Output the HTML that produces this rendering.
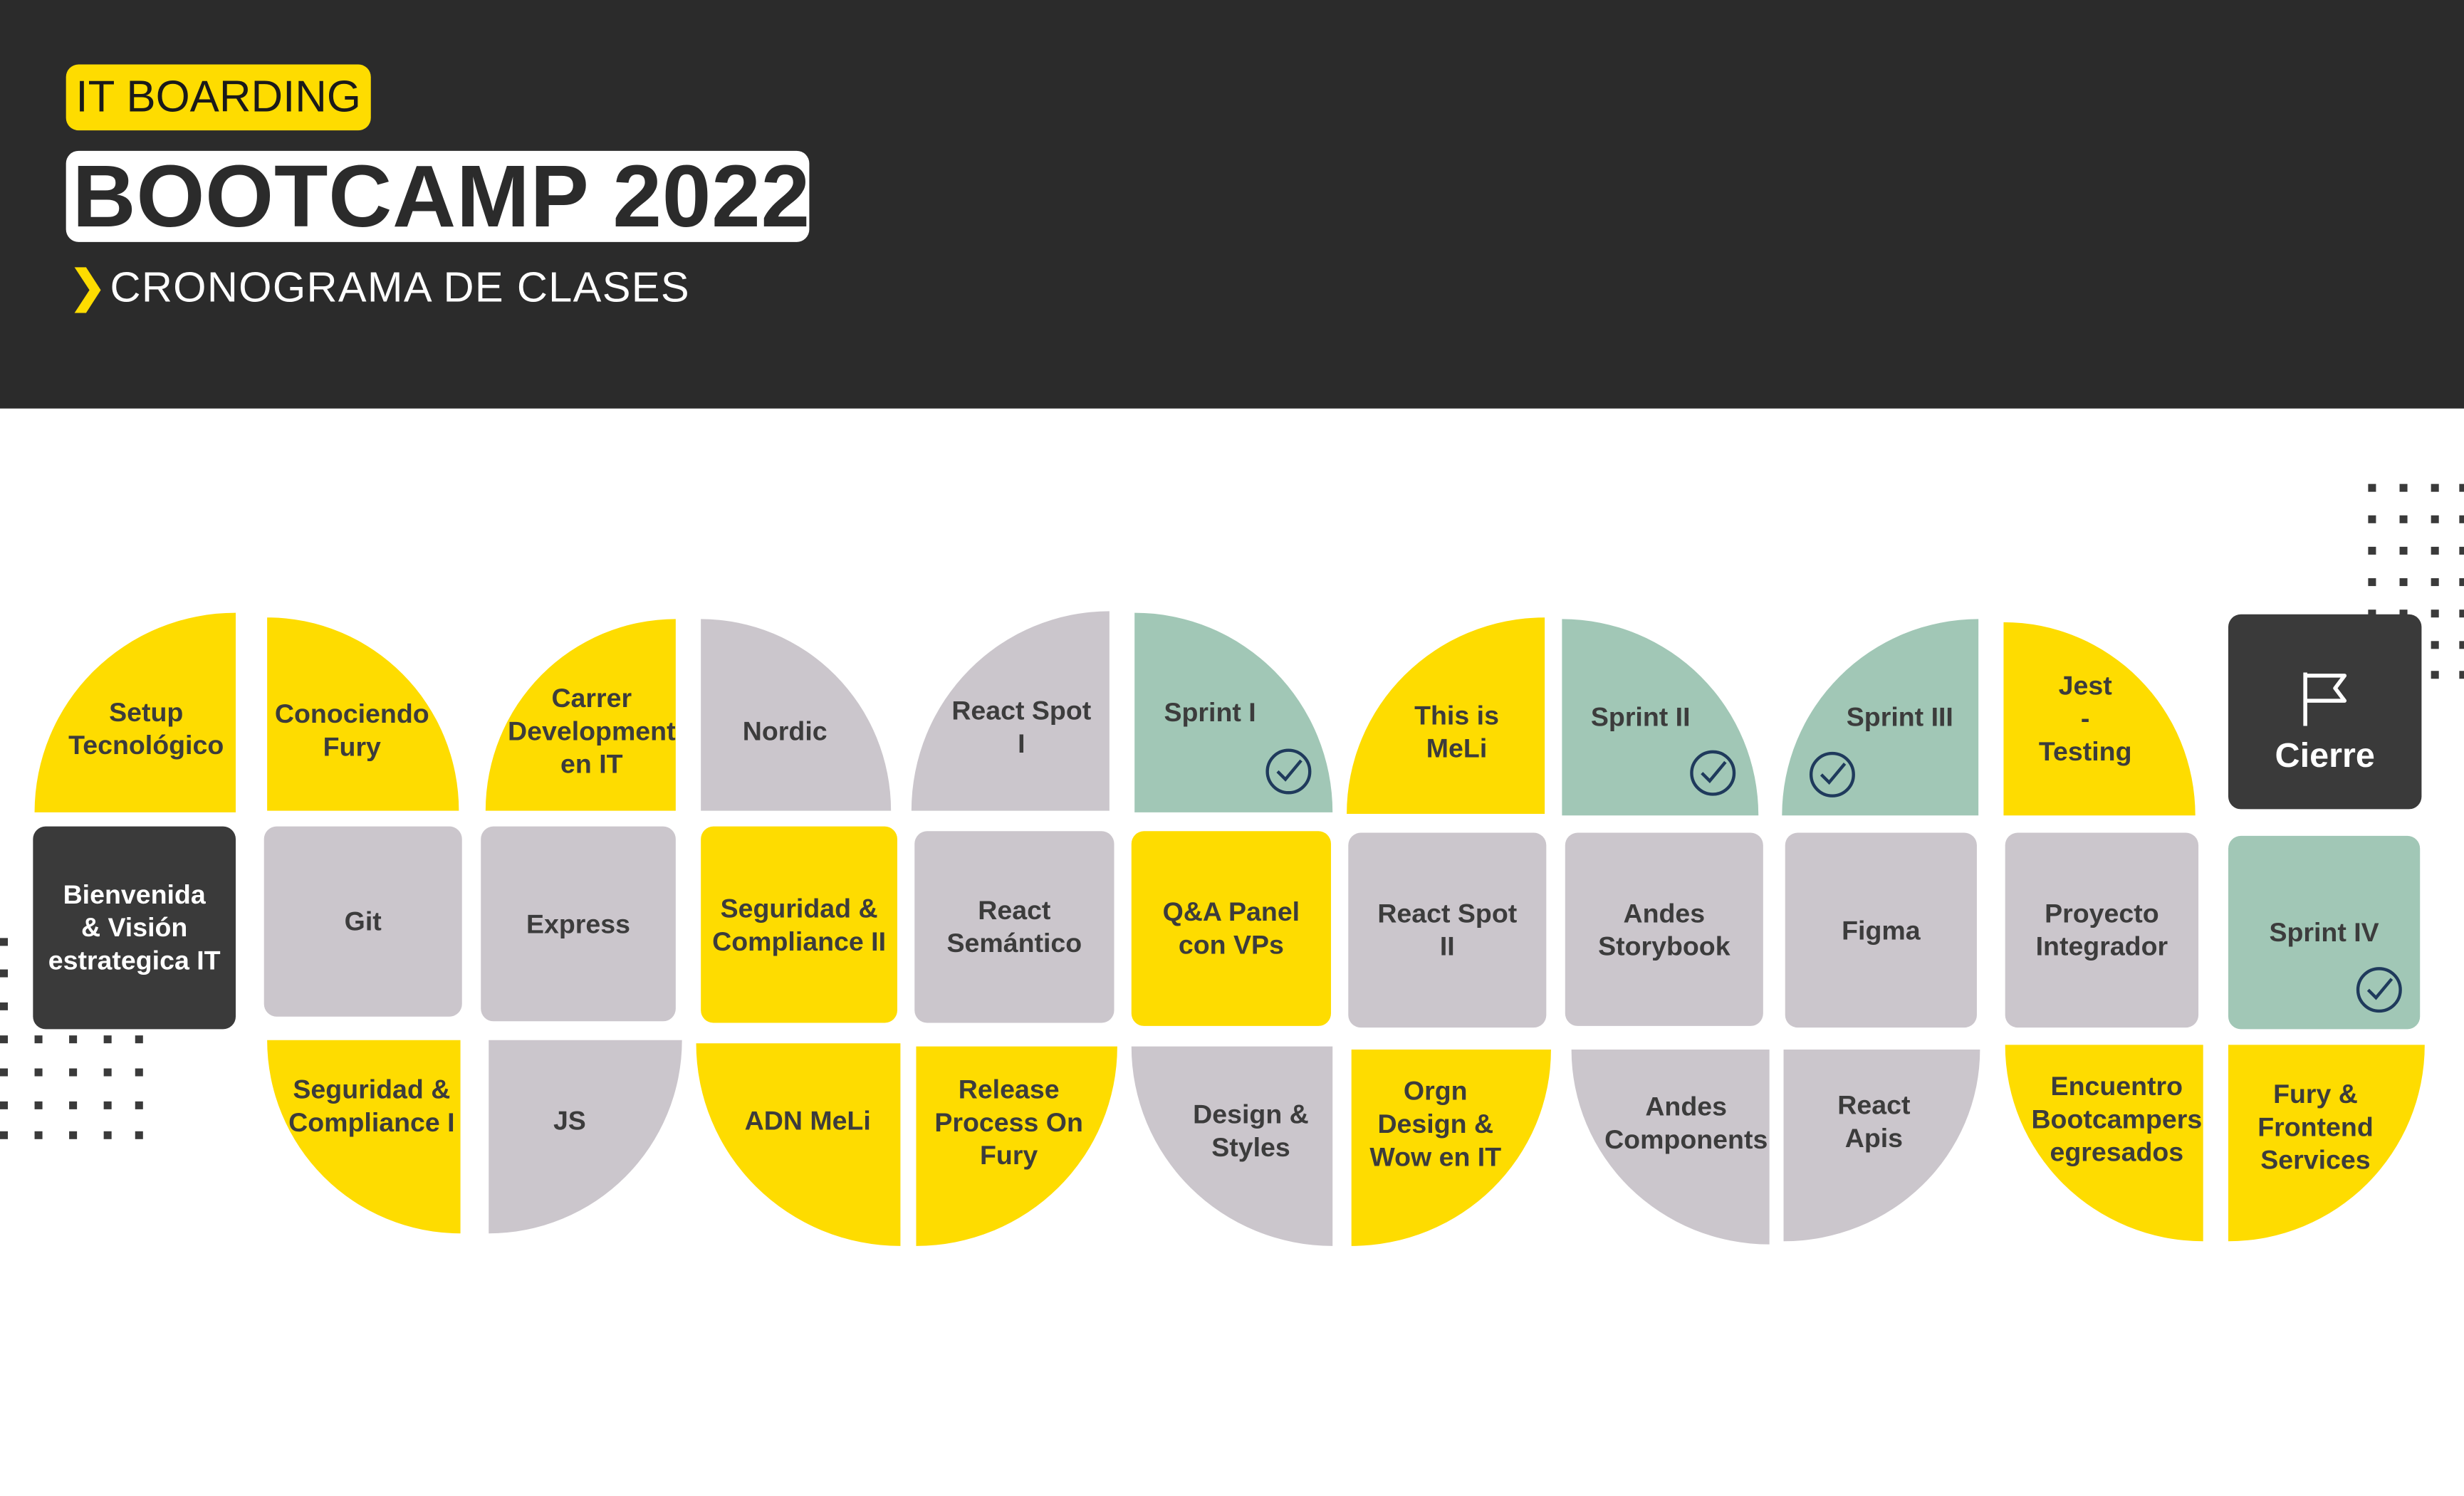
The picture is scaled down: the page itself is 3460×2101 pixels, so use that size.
<!DOCTYPE html>
<html><head><meta charset="utf-8">
<style>
html,body{margin:0;padding:0;background:#fff;}
body{width:3460px;height:2100px;overflow:hidden;position:relative;font-family:"Liberation Sans",sans-serif;}
#s{position:absolute;left:0;top:0;width:1568px;height:952px;transform:scale(2.20663);transform-origin:0 0;}
.hdr{position:absolute;left:0;top:0;width:1568px;height:260px;background:#2b2b2b;}
.t{position:absolute;display:flex;align-items:center;justify-content:center;text-align:center;font-weight:bold;font-size:17px;line-height:21px;color:#3c3c3c;box-sizing:border-box;}
.y{background:#fedc00}.g{background:#cbc6cc}.gr{background:#a1c7b6}.d{background:#3a3a3a;color:#fff;border-radius:8px}
.r{border-radius:8px}
.TL{border-top-left-radius:100%;padding:20px 0 0 14px}
.TR{border-top-right-radius:100%;padding:20px 14px 0 0}
.BL{border-bottom-left-radius:100%;padding:0 0 20px 14px}
.BR{border-bottom-right-radius:100%;padding:0 14px 20px 0}
.dot{position:absolute;width:5px;height:5px;background:#3a3a3a}
.chk{position:absolute;width:30px;height:30px}
</style></head><body>
<div id="s">
<div class="hdr"></div>
<div style="position:absolute;left:42px;top:41px;width:194px;height:42px;background:#fedc00;border-radius:8px;color:#1a1a1a;font-size:28px;line-height:42px;text-align:center;">IT BOARDING</div>
<div style="position:absolute;left:42px;top:96px;width:473px;height:58px;background:#fff;border-radius:8px;"></div>
<div style="position:absolute;left:46px;top:96px;height:58px;color:#2b2b2b;font-size:56px;font-weight:bold;line-height:58px;letter-spacing:0.3px;white-space:nowrap;">BOOTCAMP 2022</div>
<div style="position:absolute;left:44px;top:168px;color:#fedc00;font-size:28px;font-weight:bold;line-height:30px;">❯</div>
<div style="position:absolute;left:70px;top:167px;color:#fff;font-size:27px;line-height:32px;letter-spacing:0.6px;">CRONOGRAMA DE CLASES</div>

<div id="dots"></div>

<div class="t y TL" style="left:22px;top:390px;width:128px;height:127px">Setup<br>Tecnológico</div>
<div class="t y TR" style="left:170px;top:393px;width:122px;height:123px">Conociendo<br>Fury</div>
<div class="t y TL" style="left:309px;top:394px;width:121px;height:122px">Carrer<br>Development<br>en IT</div>
<div class="t g TR" style="left:446px;top:394px;width:121px;height:122px">Nordic</div>
<div class="t g TL" style="left:580px;top:389px;width:126px;height:127px">React Spot<br>I</div>
<div class="t gr TR" style="left:722px;top:390px;width:126px;height:127px;padding:0 30px 0 0">Sprint I</div>
<div class="t y TL" style="left:857px;top:393px;width:126px;height:125px">This is<br>MeLi</div>
<div class="t gr TR" style="left:994px;top:394px;width:125px;height:125px;padding:0 25px 0 0">Sprint II</div>
<div class="t gr TL" style="left:1134px;top:394px;width:125px;height:125px;padding:0 0 0 25px">Sprint III</div>
<div class="t y TR" style="left:1275px;top:396px;width:122px;height:123px;padding:0 18px 0 0">Jest<br>-<br>Testing</div>
<div class="t d" style="left:1418px;top:391px;width:123px;height:124px;font-size:22px;flex-direction:column;padding-top:10px">
<svg width="32" height="38" viewBox="0 0 32 38" style="margin-bottom:6px"><path d="M3 2 V36 M3 4 H28 L22 12 L28 20 H3" fill="none" stroke="#fff" stroke-width="2.5" stroke-linejoin="round"/></svg>Cierre</div>

<div class="t d" style="left:21px;top:526px;width:129px;height:129px">Bienvenida<br>&amp; Visión<br>estrategica IT</div>
<div class="t g r" style="left:168px;top:526px;width:126px;height:121px">Git</div>
<div class="t g r" style="left:306px;top:526px;width:124px;height:124px">Express</div>
<div class="t y r" style="left:446px;top:526px;width:125px;height:125px">Seguridad &amp;<br>Compliance II</div>
<div class="t g r" style="left:582px;top:529px;width:127px;height:122px">React<br>Semántico</div>
<div class="t y r" style="left:720px;top:529px;width:127px;height:124px">Q&amp;A Panel<br>con VPs</div>
<div class="t g r" style="left:858px;top:530px;width:126px;height:124px">React Spot<br>II</div>
<div class="t g r" style="left:996px;top:530px;width:126px;height:123px">Andes<br>Storybook</div>
<div class="t g r" style="left:1136px;top:530px;width:122px;height:124px">Figma</div>
<div class="t g r" style="left:1276px;top:530px;width:123px;height:124px">Proyecto<br>Integrador</div>
<div class="t gr r" style="left:1418px;top:532px;width:122px;height:123px">Sprint IV</div>

<div class="t y BL" style="left:170px;top:662px;width:123px;height:123px;padding:0 0 40px 10px">Seguridad &amp;<br>Compliance I</div>
<div class="t g BR" style="left:311px;top:662px;width:123px;height:123px;padding:0 20px 20px 0">JS</div>
<div class="t y BL" style="left:443px;top:664px;width:130px;height:129px;padding:0 0 30px 12px">ADN MeLi</div>
<div class="t y BR" style="left:583px;top:666px;width:128px;height:127px;padding:0 10px 30px 0">Release<br>Process On<br>Fury</div>
<div class="t g BL" style="left:720px;top:666px;width:128px;height:127px;padding:0 0 20px 24px">Design &amp;<br>Styles</div>
<div class="t y BR" style="left:860px;top:668px;width:127px;height:125px;padding:0 20px 30px 0">Orgn<br>Design &amp;<br>Wow en IT</div>
<div class="t g BL" style="left:1000px;top:668px;width:126px;height:124px;padding:0 0 30px 20px">Andes<br>Components</div>
<div class="t g BR" style="left:1135px;top:668px;width:125px;height:122px;padding:0 10px 30px 0">React<br>Apis</div>
<div class="t y BL" style="left:1276px;top:665px;width:126px;height:125px;padding:0 0 30px 16px">Encuentro<br>Bootcampers<br>egresados</div>
<div class="t y BR" style="left:1418px;top:665px;width:125px;height:125px;padding:0 14px 20px 0">Fury &amp;<br>Frontend<br>Services</div>

<svg class="chk" style="left:805px;top:476px" viewBox="0 0 30 30"><circle cx="15" cy="15" r="13.5" fill="none" stroke="#1f3a5c" stroke-width="2"/><path d="M8 15 L13 20 L23 8" fill="none" stroke="#1f3a5c" stroke-width="2"/></svg>
<svg class="chk" style="left:1075px;top:477px" viewBox="0 0 30 30"><circle cx="15" cy="15" r="13.5" fill="none" stroke="#1f3a5c" stroke-width="2"/><path d="M8 15 L13 20 L23 8" fill="none" stroke="#1f3a5c" stroke-width="2"/></svg>
<svg class="chk" style="left:1151px;top:478px" viewBox="0 0 30 30"><circle cx="15" cy="15" r="13.5" fill="none" stroke="#1f3a5c" stroke-width="2"/><path d="M8 15 L13 20 L23 8" fill="none" stroke="#1f3a5c" stroke-width="2"/></svg>
<svg class="chk" style="left:1499px;top:615px" viewBox="0 0 30 30"><circle cx="15" cy="15" r="13.5" fill="none" stroke="#1f3a5c" stroke-width="2"/><path d="M8 15 L13 20 L23 8" fill="none" stroke="#1f3a5c" stroke-width="2"/></svg>
</div>
<script>
var dots=document.getElementById('dots');
function addDot(x,y){var d=document.createElement('div');d.className='dot';d.style.left=x+'px';d.style.top=y+'px';


dots.appendChild(d);}
var lx=[0,22,44,66,86], ly=[597,617,638,659,680,701,720];
ly.forEach(function(y,i){lx.forEach(function(x){if(i<3&&x>0)return;addDot(x,y);});});
var rx=[1507,1527,1547,1565], ry=[308,328,348,368,388,408,427];
ry.forEach(function(y){rx.forEach(function(x){addDot(x,y);});});
</script>
</body></html>
